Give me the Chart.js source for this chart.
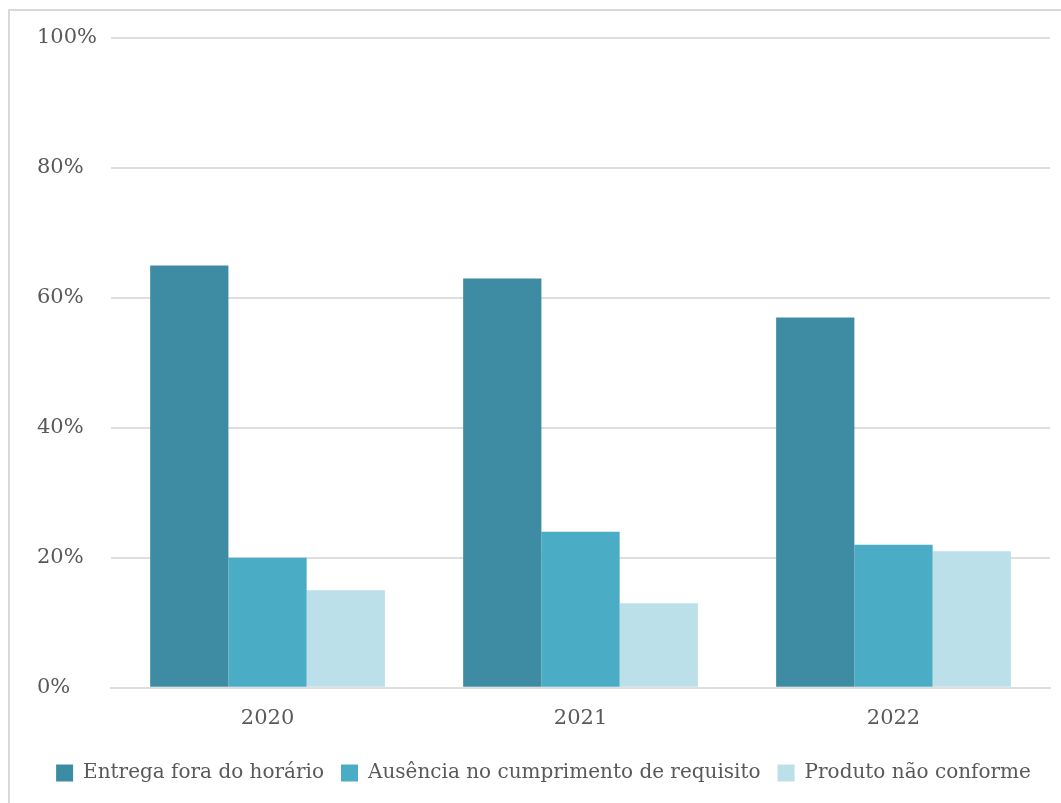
<!DOCTYPE html>
<html>
<head>
<meta charset="utf-8">
<script src="https://cdn.jsdelivr.net/npm/chart.js@4/dist/chart.umd.min.js"></script>
<style>
  html, body { margin: 0; padding: 0; background: #ffffff; }
  #wrap { position: relative; width: 1061px; height: 803px; }
</style>
</head>
<body>
<div id="wrap"><canvas id="chart" width="1061" height="803"></canvas></div>
<script>
// Categories (years)
const years = ['2020', '2021', '2022'];

// Share of each non-conformity type per year (%)
const entregaForaHorario = [65, 63, 57];
const ausenciaRequisito = [20, 24, 22];
const produtoNaoConforme = [15, 13, 21];

// Series names
const seriesNames = [
  'Entrega fora do horário',
  'Ausência no cumprimento de requisito',
  'Produto não conforme'
];

const FONT = "'DejaVu Serif', serif";
const TEXT = '#595959';
const GRID = '#dedede';

// White background and light frame around the chart
const framePlugin = {
  id: 'frame',
  beforeDraw(chart) {
    const ctx = chart.ctx;
    ctx.save();
    ctx.fillStyle = '#ffffff';
    ctx.fillRect(0, 0, chart.width, chart.height);
    ctx.strokeStyle = '#d9d9d9';
    ctx.lineWidth = 2;
    ctx.strokeRect(9, 10, chart.width + 50, chart.height + 50);
    ctx.restore();
  }
};

new Chart(document.getElementById('chart'), {
  type: 'bar',
  data: {
    labels: years,
    datasets: [
      { label: seriesNames[0], data: entregaForaHorario, backgroundColor: '#3e8ca3' },
      { label: seriesNames[1], data: ausenciaRequisito, backgroundColor: '#4bacc6' },
      { label: seriesNames[2], data: produtoNaoConforme, backgroundColor: '#bbe0e9' }
    ]
  },
  options: {
    responsive: false,
    animation: false,
    layout: { padding: { top: 38, left: 37, right: 11, bottom: 10 } },
    datasets: {
      bar: { categoryPercentage: 0.75, barPercentage: 1.0, borderWidth: 0 }
    },
    plugins: {
      tooltip: { enabled: false },
      legend: {
        position: 'bottom',
        labels: {
          font: { family: FONT, size: 20 },
          color: TEXT,
          boxWidth: 17,
          boxHeight: 17,
          padding: 17
        }
      }
    },
    scales: {
      x: {
        grid: { display: false, drawTicks: false },
        border: { display: true, color: GRID, width: 2 },
        ticks: { font: { family: FONT, size: 21 }, color: TEXT, padding: 18 },
        afterFit(scale) { scale.height -= 3; }
      },
      y: {
        min: 0,
        max: 100,
        ticks: {
          stepSize: 20,
          font: { family: FONT, size: 21 },
          color: TEXT,
          padding: 7,
          crossAlign: 'far',
          callback: v => v + '%'
        },
        grid: { color: GRID, lineWidth: 2, drawTicks: false },
        border: { display: false }
      }
    }
  },
  plugins: [framePlugin]
});
</script>
</body>
</html>
